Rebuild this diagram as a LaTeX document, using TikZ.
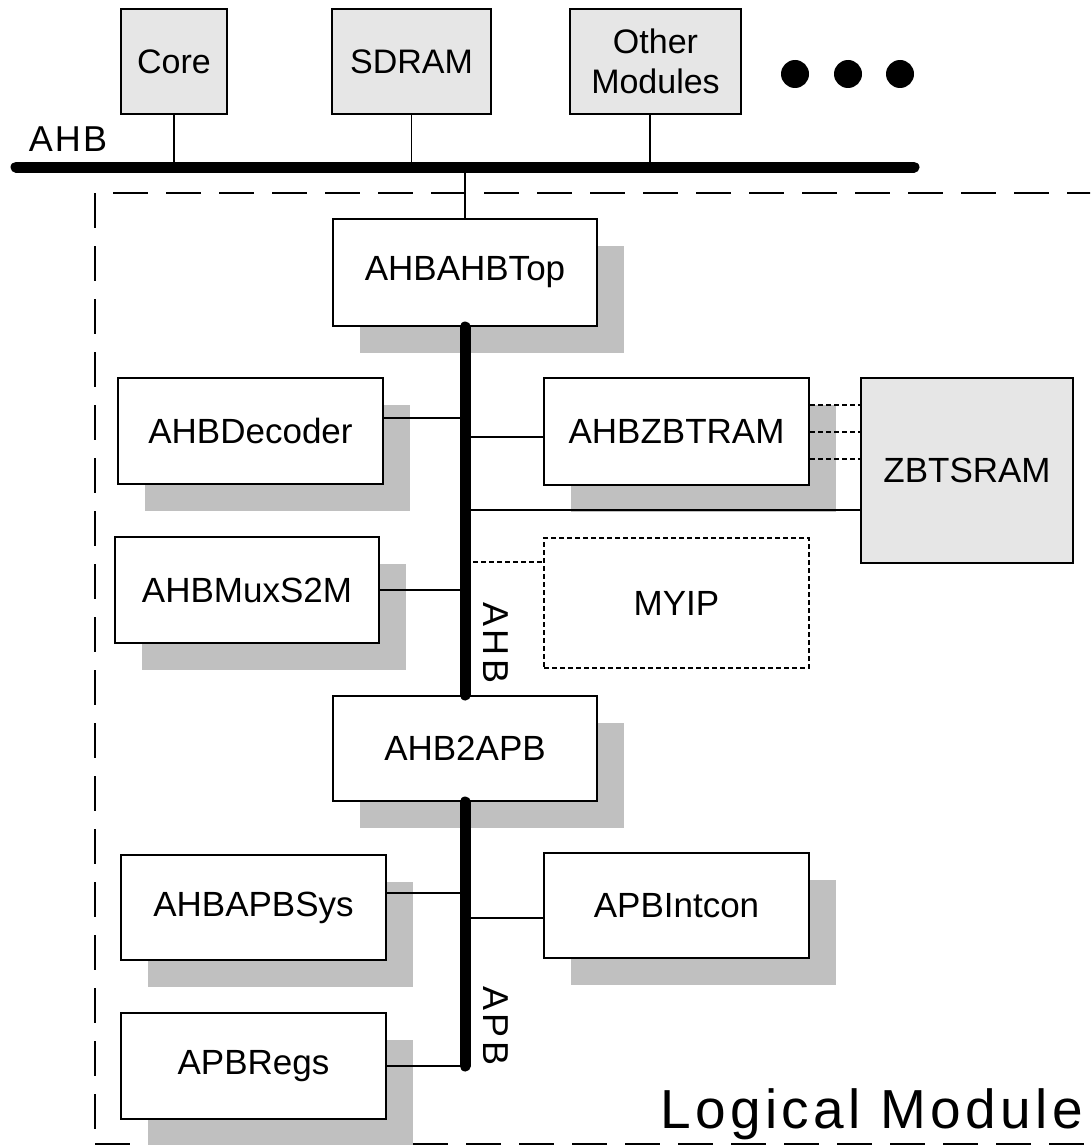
\documentclass[tikz,border=0pt]{standalone}
\usepackage{fontspec}
\setmainfont{Liberation Sans}
\usetikzlibrary{shadows}
\definecolor{shadowgray}{RGB}{192,192,192}
\definecolor{boxgray}{RGB}{230,230,230}
\begin{document}
\begin{tikzpicture}[x=1pt,y=-1pt,
  mod/.style={draw=black, line width=2pt, fill=white, inner sep=0pt,
    font=\fontsize{35}{40}\selectfont,
    drop shadow={shadow xshift=27pt, shadow yshift=-27pt, fill=shadowgray, opacity=1}},
  modplain/.style={draw=black, line width=2pt, fill=white, inner sep=0pt,
    font=\fontsize{35}{40}\selectfont},
  topbox/.style={draw=black, line width=2pt, fill=boxgray, inner sep=0pt,
    font=\fontsize{34}{40}\selectfont, align=center, minimum height=105pt},
  bus/.style={line width=11pt, line cap=round},
  conn/.style={line width=1.6pt},
  dconn/.style={line width=2pt, dash pattern=on 5pt off 3pt},
  frame/.style={line width=2pt, dash pattern=on 35pt off 18pt},
  lbl/.style={font=\fontsize{36}{40}\selectfont\addfontfeature{LetterSpace=6}, inner sep=0pt},
  dotc/.style={circle, fill=black, minimum size=28pt, inner sep=0pt}
]
\useasboundingbox (0,0) rectangle (1090,1145);
\clip (0,0) rectangle (1090,1145);

% logical module frame
\coordinate (fTL) at (95,193);
\coordinate (fBL) at (95,1144);
\coordinate (fTR) at (1100,193);
\coordinate (fBR) at (1100,1144);
\draw[frame] (fTL) -- (fBL);
\draw[frame] ([xshift=18pt]fTL) -- (fTR);
\draw[frame] (fBL) -- (fBR);

% top level modules
\node[topbox, minimum width=106pt] (core) at (174,61.5) {Core};
\node[topbox, minimum width=159pt] (sdram) at (411.5,61.5) {SDRAM};
\node[topbox, minimum width=171pt] (other) at (655.5,61.5) {Other\\Modules};
\node[dotc] (d1) at (795,74) {};
\node[dotc] (d2) at (848,74) {};
\node[dotc] (d3) at (900,74) {};

\coordinate (busL) at (16,167);
\coordinate (busR) at (914,167);
\draw[bus] (busL) -- (busR);
\node[lbl] (ahbl) at (68,139) {AHB};

\draw[conn] (core.south) -- (core.south |- busL);
\draw[conn] (sdram.south) -- (sdram.south |- busL);
\coordinate (oc) at ([xshift=-5.5pt]other.south);
\draw[conn] (oc) -- (oc |- busL);

% inner modules
\node[mod, minimum width=264pt, minimum height=107pt] (top) at (465,272.5) {AHBAHBTop};
\node[mod, minimum width=265pt, minimum height=106pt] (dec) at (250.5,431) {AHBDecoder};
\node[mod, minimum width=264pt, minimum height=106pt] (mux) at (247,590) {AHBMuxS2M};
\node[mod, minimum width=265pt, minimum height=107pt] (zbt) at (676.5,431.5) {AHBZBTRAM};
\node[modplain, dash pattern=on 5pt off 3pt, minimum width=265pt, minimum height=130pt] (myip) at (676.5,603) {MYIP};
\node[topbox, font=\fontsize{35}{40}\selectfont, minimum width=212pt, minimum height=185pt] (sram) at (967,470.5) {ZBTSRAM};
\node[mod, minimum width=264pt, minimum height=105pt] (a2a) at (465,748.5) {AHB2APB};
\node[mod, minimum width=265pt, minimum height=105pt] (sys) at (253.5,907.5) {AHBAPBSys};
\node[mod, minimum width=265pt, minimum height=105pt] (intc) at (676.5,905.5) {APBIntcon};
\node[mod, minimum width=265pt, minimum height=106pt] (regs) at (253.5,1066) {APBRegs};

% connection from top bus
\draw[conn] (top.north) -- (top.north |- busL);

% AHB vertical bus
\draw[bus] (top.south) -- (a2a.north);
\coordinate (vb) at (top.south);

\coordinate (decP) at ([yshift=13pt]dec.east);
\draw[conn] (decP) -- (decP -| vb);
\coordinate (zbtP) at ([yshift=-5.5pt]zbt.west);
\draw[conn] (zbtP -| vb) -- (zbtP);
\coordinate (sramP) at ([yshift=-39.5pt]sram.west);
\draw[conn] (sramP -| vb) -- (sramP);
\coordinate (myipP) at ([yshift=41pt]myip.west);
\draw[dconn] (myipP -| vb) -- (myipP);
\draw[conn] (mux.east) -- (mux.east -| vb);

\foreach \s/\n in {27/1,0/2,-27/3}{
  \coordinate (zz\n) at ([yshift=\s pt]zbt.east);
  \draw[dconn] (zz\n) -- (zz\n -| sram.west);
}

\node[lbl, rotate=-90, font=\fontsize{36}{40}\selectfont\addfontfeature{LetterSpace=10}] (ahbv) at (496,643) {AHB};

% APB bus
\coordinate (apbB) at (a2a.south |- regs.east);
\draw[bus] (a2a.south) -- (apbB);
\draw[conn] (regs.east) -- (apbB);
\coordinate (sysP) at ([yshift=14.5pt]sys.east);
\draw[conn] (sysP) -- (sysP -| vb);
\coordinate (intP) at ([yshift=-12.5pt]intc.west);
\draw[conn] (intP -| vb) -- (intP);
\node[lbl, rotate=-90, font=\fontsize{36}{40}\selectfont\addfontfeature{LetterSpace=10}] (apbv) at (496,1026) {APB};

\node[anchor=base west, inner sep=0pt, font=\fontsize{55}{60}\selectfont\addfontfeature{LetterSpace=8}] (lm) at (660,1128) {Logical Module};
\end{tikzpicture}
\end{document}
